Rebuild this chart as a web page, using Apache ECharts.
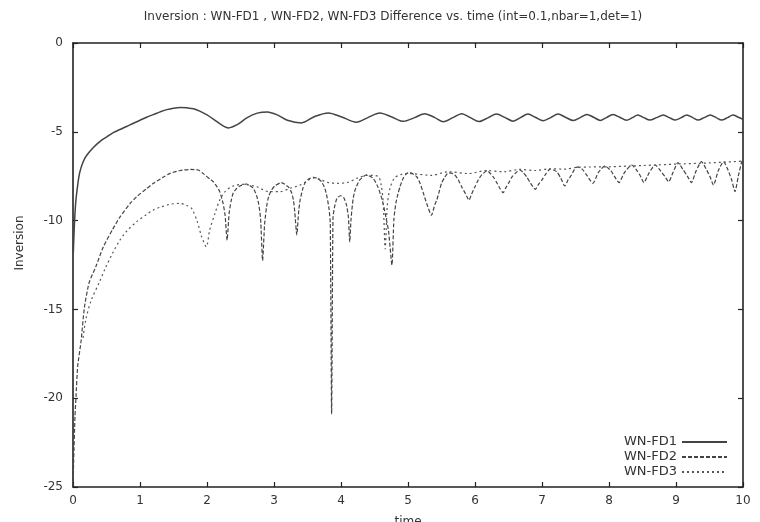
<!DOCTYPE html>
<html>
<head>
<meta charset="utf-8">
<script src="https://cdn.jsdelivr.net/npm/echarts@6/dist/echarts.min.js"></script>
<style>html,body{margin:0;padding:0;background:#fff;}#c{width:760px;height:522px;}</style>
</head>
<body>
<div id="c"></div>
<script>
var titleText = 'Inversion : WN-FD1 , WN-FD2, WN-FD3 Difference vs. time (int=0.1,nbar=1,det=1)';
var xName = 'time';
var yName = 'Inversion';
var seriesNames = ['WN-FD1', 'WN-FD2', 'WN-FD3'];
var xTicks = [0, 10, 1];
var yTicks = [-25, 0, 5];

var fd1 = [
[0.005,-11.8],[0.02,-10.3],[0.04,-9.0],[0.07,-8.0],[0.1,-7.3],[0.15,-6.7],[0.2,-6.35],[0.3,-5.9],
[0.4,-5.55],[0.5,-5.3],[0.6,-5.05],[0.7,-4.87],[0.8,-4.7],[0.9,-4.52],[1.0,-4.35],[1.1,-4.18],
[1.2,-4.03],[1.3,-3.88],[1.4,-3.75],[1.5,-3.67],[1.6,-3.63],[1.7,-3.65],[1.8,-3.7],[1.9,-3.85],
[2.0,-4.05],[2.1,-4.3],[2.2,-4.57],[2.32,-4.78],[2.45,-4.6],[2.6,-4.2],[2.75,-3.95],[2.9,-3.88],
[3.05,-4.05],[3.2,-4.35],[3.41,-4.5],[3.6,-4.15],[3.81,-3.94],[4.0,-4.15],[4.23,-4.46],[4.4,-4.2],
[4.58,-3.94],[4.75,-4.15],[4.93,-4.41],[5.1,-4.2],[5.25,-3.98],[5.4,-4.2],[5.53,-4.43],[5.67,-4.2],
[5.8,-3.98],[5.93,-4.2],[6.06,-4.42],[6.2,-4.2],[6.32,-4.0],[6.45,-4.2],[6.57,-4.4],[6.68,-4.2],
[6.79,-4.0],[6.9,-4.18],[7.02,-4.38],[7.13,-4.2],[7.24,-4.0],[7.35,-4.18],[7.47,-4.37],[7.57,-4.2],
[7.67,-4.02],[7.77,-4.18],[7.87,-4.36],[7.96,-4.2],[8.06,-4.03],[8.16,-4.18],[8.26,-4.35],[8.35,-4.2],
[8.43,-4.05],[8.52,-4.2],[8.61,-4.34],[8.71,-4.2],[8.81,-4.05],[8.9,-4.2],[8.99,-4.34],[9.08,-4.2],
[9.16,-4.05],[9.25,-4.2],[9.33,-4.34],[9.42,-4.2],[9.51,-4.05],[9.6,-4.2],[9.68,-4.34],[9.77,-4.2],
[9.85,-4.06],[9.93,-4.18],[10.0,-4.3]
];

var fd2 = [
[0.0,-25],[0.01,-23.5],[0.03,-21],[0.045,-19.9],[0.07,-18.2],[0.12,-16.8],[0.17,-14.9],[0.24,-13.5],
[0.34,-12.6],[0.45,-11.5],[0.59,-10.5],[0.7,-9.8],[0.85,-9.05],[0.95,-8.65],[1.1,-8.2],[1.2,-7.9],
[1.35,-7.55],[1.45,-7.34],[1.6,-7.18],[1.75,-7.12],[1.87,-7.15],[1.94,-7.34],[2.04,-7.65],[2.09,-7.8],
[2.15,-8.1],[2.19,-8.37],[2.24,-9.03],[2.27,-9.7],[2.3,-11.1],[2.33,-9.6],[2.36,-8.9],[2.39,-8.46],
[2.44,-8.2],[2.49,-8.05],[2.59,-7.94],[2.69,-8.18],[2.74,-8.6],[2.77,-9.03],[2.8,-9.9],[2.83,-12.25],
[2.86,-10.2],[2.89,-9.2],[2.92,-8.65],[2.96,-8.3],[3.01,-8.05],[3.11,-7.86],[3.21,-8.09],[3.26,-8.4],
[3.29,-8.84],[3.31,-9.5],[3.34,-10.8],[3.37,-9.4],[3.39,-8.84],[3.43,-8.2],[3.46,-7.9],[3.52,-7.65],
[3.59,-7.56],[3.66,-7.65],[3.71,-7.81],[3.76,-8.2],[3.79,-8.65],[3.82,-9.3],[3.84,-10.15],[3.86,-20.9],
[3.88,-9.9],[3.9,-9.3],[3.94,-8.74],[3.99,-8.6],[4.04,-8.7],[4.08,-9.1],[4.11,-9.78],[4.13,-11.2],
[4.15,-9.9],[4.18,-8.8],[4.21,-8.28],[4.28,-7.71],[4.38,-7.43],[4.48,-7.62],[4.55,-8.1],[4.62,-8.9],
[4.67,-9.8],[4.71,-10.6],[4.76,-12.5],[4.79,-9.9],[4.82,-9.0],[4.85,-8.5],[4.88,-8.09],[4.93,-7.6],
[4.98,-7.35],[5.03,-7.3],[5.13,-7.53],[5.18,-7.9],[5.23,-8.46],[5.28,-9.05],[5.35,-9.7],[5.4,-9.1],
[5.43,-8.84],[5.47,-8.3],[5.5,-7.9],[5.55,-7.55],[5.6,-7.32],[5.65,-7.33],[5.7,-7.43],[5.75,-7.7],
[5.8,-8.09],[5.86,-8.5],[5.91,-8.85],[5.95,-8.5],[6.0,-8.09],[6.05,-7.7],[6.1,-7.43],[6.18,-7.19],
[6.27,-7.53],[6.33,-7.9],[6.37,-8.18],[6.42,-8.43],[6.46,-8.15],[6.5,-7.9],[6.55,-7.55],[6.6,-7.34],
[6.67,-7.15],[6.72,-7.3],[6.77,-7.53],[6.83,-7.9],[6.9,-8.24],[6.95,-7.95],[7.0,-7.71],[7.06,-7.35],
[7.12,-7.1],[7.17,-7.15],[7.22,-7.25],[7.28,-7.6],[7.34,-8.05],[7.39,-7.7],[7.44,-7.43],[7.48,-7.15],
[7.53,-6.98],[7.6,-7.1],[7.66,-7.4],[7.76,-7.9],[7.84,-7.3],[7.94,-6.92],[8.03,-7.2],[8.08,-7.5],
[8.15,-7.86],[8.23,-7.3],[8.34,-6.87],[8.42,-7.2],[8.47,-7.5],[8.52,-7.86],[8.6,-7.3],[8.69,-6.87],
[8.77,-7.2],[8.83,-7.5],[8.89,-7.81],[8.96,-7.25],[9.03,-6.74],[9.1,-7.1],[9.17,-7.5],[9.23,-7.86],
[9.3,-7.2],[9.38,-6.68],[9.45,-7.1],[9.51,-7.55],[9.56,-8.0],[9.63,-7.2],[9.71,-6.68],[9.77,-7.1],
[9.83,-7.7],[9.88,-8.37],[9.93,-7.5],[9.98,-6.7],[10.0,-6.6]
];

var fd3 = [
[0.15,-16.6],[0.19,-15.6],[0.27,-14.5],[0.39,-13.5],[0.48,-12.7],[0.59,-11.84],[0.7,-11.1],[0.8,-10.6],
[0.95,-10.06],[1.1,-9.65],[1.2,-9.4],[1.3,-9.25],[1.45,-9.08],[1.6,-9.03],[1.7,-9.15],[1.77,-9.31],
[1.85,-10.0],[1.92,-10.9],[1.99,-11.47],[2.04,-10.53],[2.12,-9.59],[2.19,-8.84],[2.27,-8.37],[2.39,-8.05],
[2.54,-7.96],[2.74,-8.09],[2.92,-8.37],[3.09,-8.37],[3.24,-8.18],[3.39,-8.0],[3.5,-7.75],[3.6,-7.6],
[3.7,-7.7],[3.8,-7.85],[3.95,-7.9],[4.1,-7.85],[4.25,-7.6],[4.4,-7.45],[4.55,-7.5],[4.6,-8.0],
[4.63,-9.0],[4.66,-11.6],[4.69,-9.2],[4.73,-8.2],[4.8,-7.6],[4.9,-7.4],[5.0,-7.35],[5.35,-7.45],
[5.6,-7.25],[5.9,-7.35],[6.18,-7.18],[6.42,-7.25],[6.67,-7.12],[6.9,-7.18],[7.12,-7.08],[7.34,-7.1],
[7.53,-7.0],[8.0,-6.97],[8.5,-6.9],[9.0,-6.82],[9.5,-6.75],[10.0,-6.65]
];

var chart = echarts.init(document.getElementById('c'), null, {renderer: 'canvas'});
var FONT = 'DejaVu Sans';
var axisLine = {show: true, onZero: false, lineStyle: {color: '#222', width: 1.6}};
var tickIn = {show: true, inside: true, length: 5, lineStyle: {color: '#222', width: 1.2}};
var lineColor = '#444';

chart.setOption({
  animation: false,
  backgroundColor: '#fff',
  title: {
    text: titleText, left: 388, top: 6, textAlign: 'center',
    textStyle: {fontFamily: FONT, fontSize: 12, fontWeight: 'normal', color: '#333'}
  },
  grid: {left: 73, right: 17, top: 43, bottom: 35, containLabel: false, outerBoundsMode: 'none'},
  legend: {
    orient: 'vertical', right: 27, top: 430, align: 'right',
    itemWidth: 45, itemHeight: 10, itemGap: 1,
    itemStyle: {opacity: 0, borderWidth: 0},
    textStyle: {fontFamily: FONT, fontSize: 13, color: '#333', lineHeight: 14},
    data: seriesNames
  },
  xAxis: [{
    type: 'value', min: xTicks[0], max: xTicks[1], interval: xTicks[2],
    name: xName, nameLocation: 'middle', nameGap: 29,
    nameTextStyle: {fontFamily: FONT, fontSize: 12, color: '#333', verticalAlign: 'top'},
    axisLine: axisLine, axisTick: tickIn, splitLine: {show: false},
    axisLabel: {fontFamily: FONT, fontSize: 12, color: '#333', margin: 8}
  }, {
    type: 'value', position: 'top', min: xTicks[0], max: xTicks[1], interval: xTicks[2],
    axisLine: axisLine, axisTick: tickIn, splitLine: {show: false}, axisLabel: {show: false}
  }],
  yAxis: [{
    type: 'value', min: yTicks[0], max: yTicks[1], interval: yTicks[2],
    axisLine: axisLine, axisTick: tickIn, splitLine: {show: false},
    axisLabel: {fontFamily: FONT, fontSize: 12, color: '#333', margin: 10}
  }, {
    type: 'value', position: 'right', min: yTicks[0], max: yTicks[1], interval: yTicks[2],
    axisLine: axisLine, axisTick: tickIn, splitLine: {show: false}, axisLabel: {show: false}
  }],
  graphic: [{
    type: 'text', x: 20, y: 243, rotation: Math.PI / 2,
    style: {text: yName, font: '12px "DejaVu Sans"', fill: '#333', align: 'center', verticalAlign: 'middle'}
  }],
  series: [{
    name: seriesNames[0], type: 'line', data: fd1, showSymbol: false, symbol: 'none', smooth: 0.3,
    lineStyle: {color: lineColor, width: 1.5, type: 'solid'}, itemStyle: {color: lineColor}
  }, {
    name: seriesNames[1], type: 'line', data: fd2, showSymbol: false, symbol: 'none', smooth: 0.2,
    lineStyle: {color: lineColor, width: 1.2, type: [4, 2]}, itemStyle: {color: lineColor}
  }, {
    name: seriesNames[2], type: 'line', data: fd3, showSymbol: false, symbol: 'none', smooth: 0.3,
    lineStyle: {color: '#555', width: 1.2, type: [2, 3]}, itemStyle: {color: '#555'}
  }]
});
</script>
</body>
</html>
